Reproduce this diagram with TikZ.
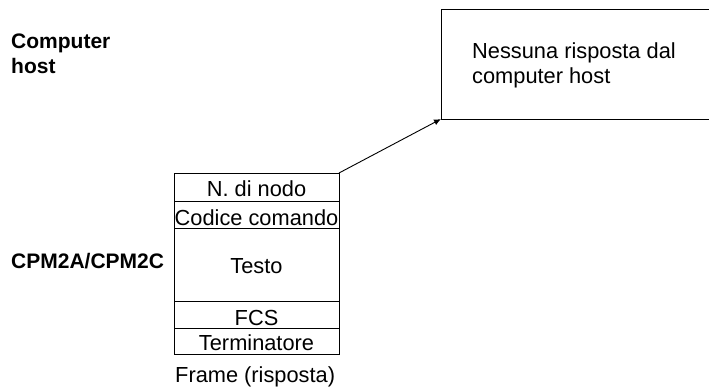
\documentclass[tikz,border=0pt]{standalone}
\usepackage{fontspec}
\setmainfont{Liberation Sans}
\usetikzlibrary{arrows.meta}
\tikzset{
  rowbox/.style={draw, line width=0.9pt, minimum width=165, inner sep=0pt, outer sep=0pt},
  lbl/.style={anchor=base, inner sep=0pt, font=\fontsize{21.8}{25}\selectfont},
  side/.style={anchor=base west, inner sep=0pt, align=left, font=\fontsize{21}{25}\selectfont\bfseries},
  conn/.style={line width=0.9pt},
}
\begin{document}
\begin{tikzpicture}[x=1pt,y=-1pt]
\useasboundingbox (0,0) rectangle (709,386);
% side labels (base anchor = baseline of last line)
\node[side] (host) at (11,73) {Computer\\host};
\node[side] (cpm) at (11,268) {CPM2A/CPM2C};
% frame rows
\node[rowbox, minimum height=28] (r1) at (256.5,187) {};
\node[rowbox, minimum height=27] (r2) at (256.5,214.5) {};
\node[rowbox, minimum height=73] (r3) at (256.5,264.5) {};
\node[rowbox, minimum height=27] (r4) at (256.5,314.5) {};
\node[rowbox, minimum height=26] (r5) at (256.5,341) {};
\node[lbl] (t1) at (256.5,196) {N. di nodo};
\node[lbl] (t2) at (256.5,225) {Codice comando};
\node[lbl] (t3) at (256.5,273) {Testo};
\node[lbl] (t4) at (256.5,325) {FCS};
\node[lbl] (t5) at (256.5,350) {Terminatore};
\node[lbl, anchor=base west] (cap) at (175,382) {Frame (risposta)};
% host box (open to the right edge)
\node[minimum width=268, minimum height=110, inner sep=0pt, outer sep=0pt] (hb) at (575,64) {};
\draw[conn] (hb.north east) -- (hb.north west) -- (hb.south west) -- (hb.south east);
\node[side, font=\fontsize{21.8}{25}\selectfont] (msg) at (472,83) {Nessuna risposta dal\\computer host};
% connector
\draw[conn, -{Latex[length=7,width=6]}] (r1.north east) -- (hb.south west);
\end{tikzpicture}
\end{document}
